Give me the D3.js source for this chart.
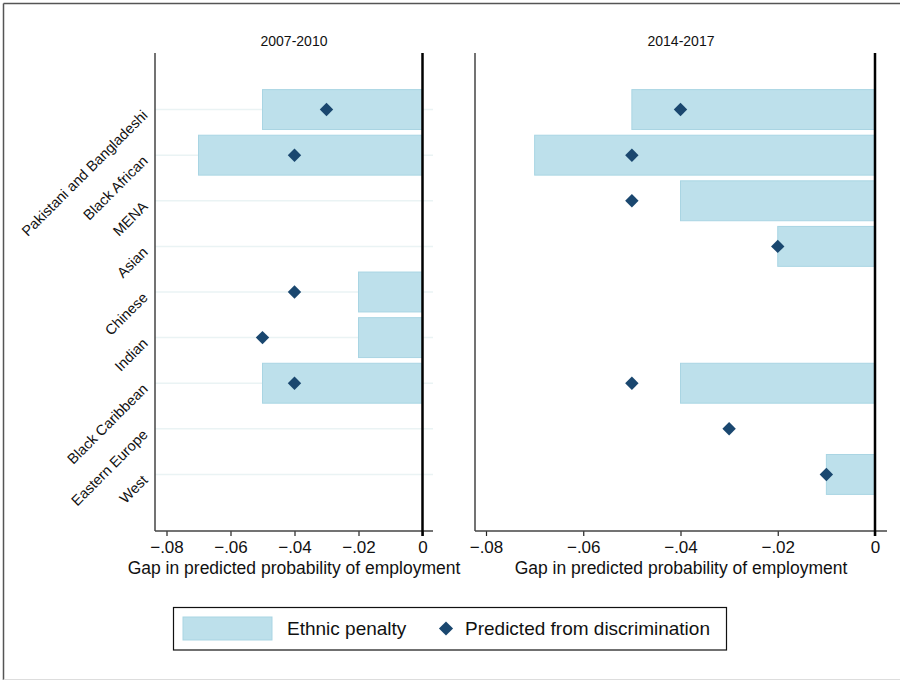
<!DOCTYPE html>
<html>
<head>
<meta charset="utf-8">
<script src="https://cdn.jsdelivr.net/npm/d3@7"></script>
<style>
  html, body { margin: 0; padding: 0; background: #fff; }
  svg { display: block; font-family: "Liberation Sans", Arial, sans-serif; }
</style>
</head>
<body>
<svg id="chart" width="900" height="680"></svg>
<script>
// Ethnic groups, top to bottom
const categories = ["Pakistani and Bangladeshi", "Black African", "MENA", "Asian",
  "Chinese", "Indian", "Black Caribbean", "Eastern Europe", "West"];

// Ethnic penalty (bars) and gap predicted from discrimination (diamonds); null = not shown
const penalty2007 = [-0.05, -0.07, null, null, -0.02, -0.02, -0.05, null, null];
const discrim2007 = [-0.03, -0.04, null, null, -0.04, -0.05, -0.04, null, null];
const penalty2014 = [-0.05, -0.07, -0.04, -0.02, null, null, -0.04, null, -0.01];
const discrim2014 = [-0.04, -0.05, -0.05, -0.02, null, null, -0.05, -0.03, -0.01];

const panelTitles = ["2007-2010", "2014-2017"];
const xTicks = [-0.08, -0.06, -0.04, -0.02, 0];
const xTitle = "Gap in predicted probability of employment";
const legendLabels = ["Ethnic penalty", "Predicted from discrimination"];

const barFill = "#bde0eb", barStroke = "#a9d5e3", diamondFill = "#1a476f";

const svg = d3.select("#chart");

// outer frame
svg.append("line").attr("x1", 3.5).attr("x2", 3.5).attr("y1", 3.5).attr("y2", 680)
  .attr("stroke", "#555").attr("stroke-width", 1.5);
svg.append("line").attr("x1", 3.5).attr("x2", 900).attr("y1", 3.5).attr("y2", 3.5)
  .attr("stroke", "#555").attr("stroke-width", 1.5);
svg.append("line").attr("x1", 3.5).attr("x2", 900).attr("y1", 679.5).attr("y2", 679.5)
  .attr("stroke", "#ddd").attr("stroke-width", 1);

const plotTop = 53, plotBottom = 531;
const y = d3.scalePoint().domain(categories).range([plotTop, plotBottom]).padding(1.24);
const barH = y.step() * 0.875;

const tickFmt = d => d === 0 ? "0" : d3.format(".2f")(d).replace("0.", ".");

const panels = [
  { title: panelTitles[0], pen: penalty2007, dis: discrim2007,
    axisLeft: 155, axisRight: 433, x0: 166.5, x1: 422.5, labels: true },
  { title: panelTitles[1], pen: penalty2014, dis: discrim2014,
    axisLeft: 475, axisRight: 887, x0: 486, x1: 875, labels: false }
];

panels.forEach(p => {
  const x = d3.scaleLinear().domain([-0.08, 0]).range([p.x0, p.x1]);
  const g = svg.append("g");

  // grid lines and category labels
  if (p.labels) {
    g.selectAll(".grid").data(categories).join("line")
      .attr("x1", p.axisLeft).attr("x2", p.axisRight)
      .attr("y1", d => y(d)).attr("y2", d => y(d))
      .attr("stroke", "#eaf3f4").attr("stroke-width", 1.5);
    g.selectAll(".cat").data(categories).join("text")
      .attr("transform", d => `translate(${p.axisLeft - 10},${y(d) + 3}) rotate(-45)`)
      .attr("text-anchor", "end").attr("dy", "0.35em")
      .attr("font-size", 14.5).attr("fill", "#111").text(d => d);
  }

  // penalty bars
  const bars = categories.map((c, i) => ({ c, v: p.pen[i] })).filter(d => d.v !== null);
  g.selectAll(".bar").data(bars).join("rect")
    .attr("x", d => x(d.v)).attr("width", d => x(0) - x(d.v))
    .attr("y", d => y(d.c) - barH / 2).attr("height", barH)
    .attr("fill", barFill).attr("stroke", barStroke).attr("stroke-width", 1);

  // diamonds
  const pts = categories.map((c, i) => ({ c, v: p.dis[i] })).filter(d => d.v !== null);
  g.selectAll(".dia").data(pts).join("path")
    .attr("d", d3.symbol(d3.symbolSquare, 90))
    .attr("transform", d => `translate(${x(d.v)},${y(d.c)}) rotate(45)`)
    .attr("fill", diamondFill);

  // y axis line
  g.append("line").attr("x1", p.axisLeft).attr("x2", p.axisLeft)
    .attr("y1", plotTop).attr("y2", plotBottom)
    .attr("stroke", "#444").attr("stroke-width", 1.5);

  // x axis
  const ax = g.append("g").attr("transform", `translate(0,${plotBottom})`)
    .call(d3.axisBottom(x).tickValues(xTicks).tickFormat(tickFmt).tickSize(5).tickPadding(5));
  ax.select(".domain").remove();
  ax.selectAll(".tick line").attr("stroke", "#222").attr("stroke-width", 1.2);
  ax.selectAll(".tick text").attr("font-size", 17).attr("fill", "#111")
    .attr("font-family", "Liberation Sans, Arial, sans-serif");
  g.append("line").attr("x1", p.axisLeft).attr("x2", p.axisRight)
    .attr("y1", plotBottom).attr("y2", plotBottom)
    .attr("stroke", "#444").attr("stroke-width", 1.5);

  // zero reference line
  g.append("line").attr("x1", x(0)).attr("x2", x(0))
    .attr("y1", plotTop).attr("y2", plotBottom + 5)
    .attr("stroke", "#000").attr("stroke-width", 2.5);

  // titles
  g.append("text").attr("x", (p.axisLeft + p.axisRight) / 2).attr("y", 45.5)
    .attr("text-anchor", "middle").attr("font-size", 14).attr("fill", "#111").text(p.title);
  g.append("text").attr("x", (p.axisLeft + p.axisRight) / 2).attr("y", 574)
    .attr("text-anchor", "middle").attr("font-size", 17.5).attr("fill", "#111").text(xTitle);
});

// legend
const lg = svg.append("g");
lg.append("rect").attr("x", 173.5).attr("y", 607.5).attr("width", 553).attr("height", 42.5)
  .attr("fill", "#fff").attr("stroke", "#111").attr("stroke-width", 1.2);
lg.append("rect").attr("x", 183).attr("y", 617).attr("width", 89).attr("height", 23)
  .attr("fill", barFill).attr("stroke", barStroke);
lg.append("text").attr("x", 287).attr("y", 635).attr("font-size", 19).attr("fill", "#111")
  .text(legendLabels[0]);
lg.append("path").attr("d", d3.symbol(d3.symbolSquare, 100))
  .attr("transform", "translate(446,628.5) rotate(45)").attr("fill", diamondFill);
lg.append("text").attr("x", 465).attr("y", 635).attr("font-size", 19).attr("fill", "#111")
  .text(legendLabels[1]);
</script>
</body>
</html>
